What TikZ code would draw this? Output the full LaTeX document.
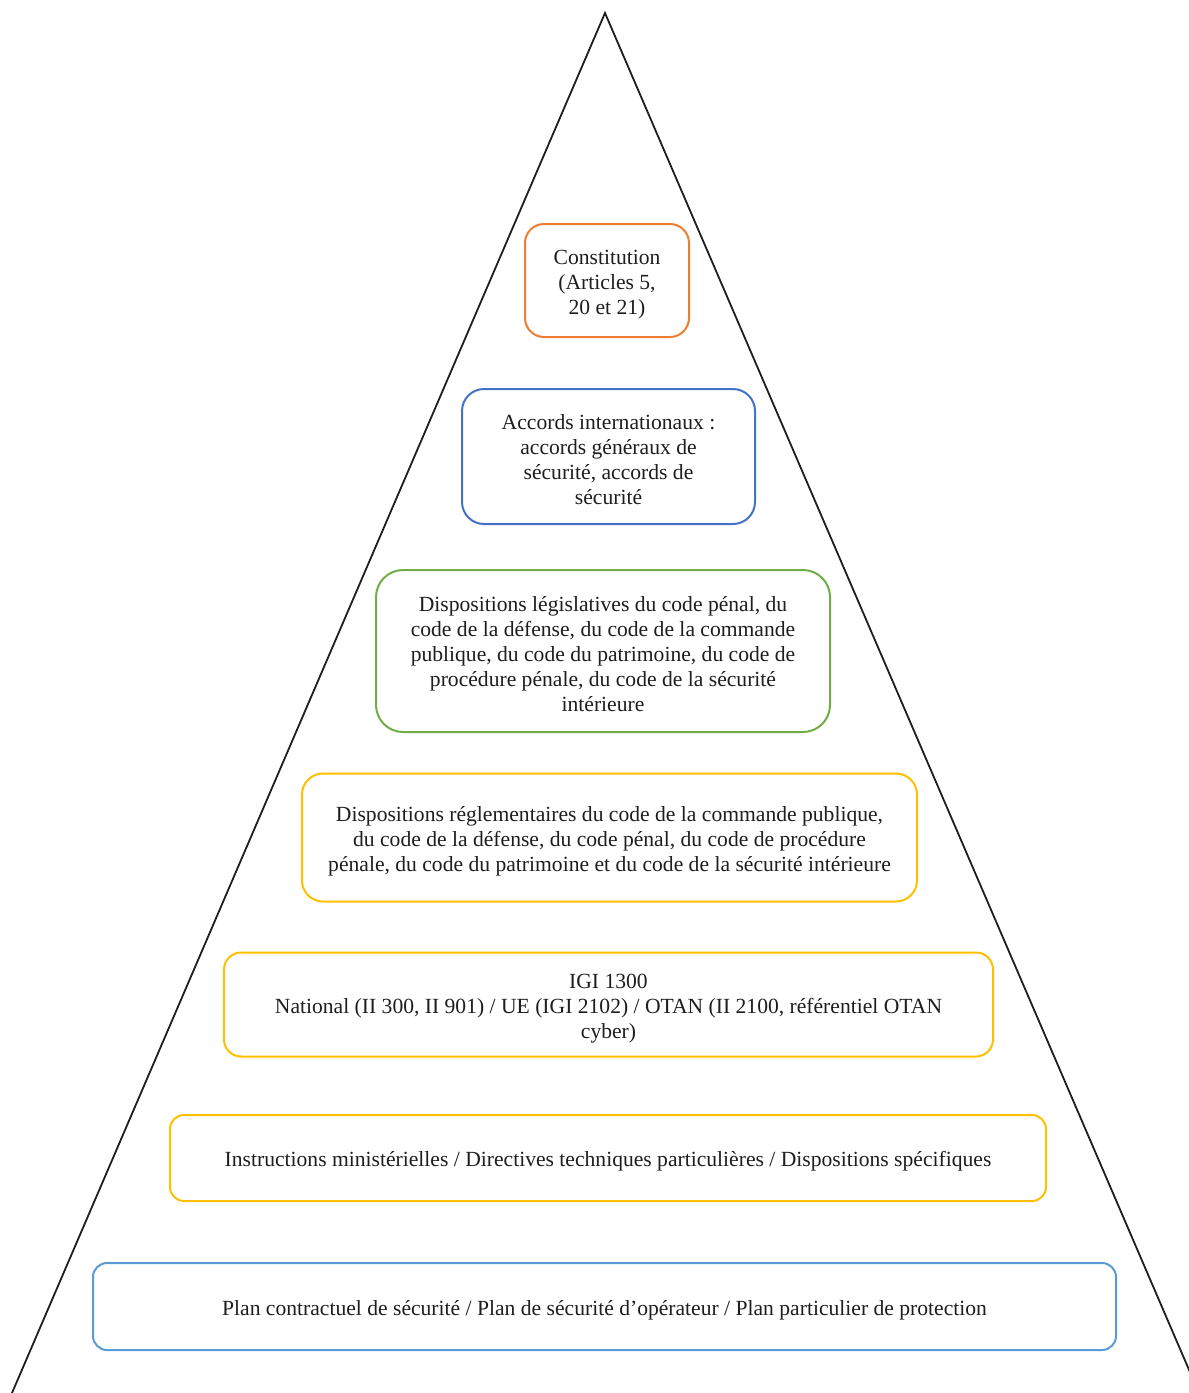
\documentclass[tikz,border=0pt]{standalone}
\usepackage{fontspec}
\setmainfont{Liberation Serif}
\usepackage{tikz}
\definecolor{tierOrange}{HTML}{ED7D31}
\definecolor{tierBlue}{HTML}{4472C4}
\definecolor{tierGreen}{HTML}{70AD47}
\definecolor{tierGold}{HTML}{FFC000}
\definecolor{tierSky}{HTML}{5B9BD5}
\definecolor{pyramidInk}{HTML}{1E1E1E}
\newcommand{\tierstrut}{\rule{0pt}{11pt}}
\tikzset{tier/.style={draw=#1, fill=white, line width=1pt, align=center, inner sep=0pt, text=pyramidInk, font=\fontsize{10.8}{12.5}\selectfont}}

\begin{document}
\begin{tikzpicture}[x=0.5pt, y=-0.5pt, line cap=round]

	\useasboundingbox (0,0) rectangle (1189,1393);

	\coordinate (apex) at (605,13);
	\coordinate (baseL) at (12,1393);
	\coordinate (baseR) at (1199,1393);

	\draw[line width=0.9pt, pyramidInk] (baseL) -- (apex) -- (baseR);

	\node[tier=tierOrange, minimum width=82pt, minimum height=56.5pt, rounded corners=9.5pt] (constitution) at (607,280.5) {\tierstrut Constitution\\(Articles 5,\\20 et 21)};
	\node[tier=tierBlue, minimum width=146.5pt, minimum height=67.5pt, rounded corners=11pt] (accords) at (608.5,456.5) {\tierstrut Accords internationaux :\\accords généraux de\\sécurité, accords de\\sécurité};
	\node[tier=tierGreen, minimum width=227pt, minimum height=81pt, rounded corners=13.5pt] (legislatif) at (603,651) {\tierstrut Dispositions législatives du code pénal, du\\code de la défense, du code de la commande\\publique, du code du patrimoine, du code de\\procédure pénale, du code de la sécurité\\intérieure};
	\node[tier=tierGold, minimum width=307.5pt, minimum height=64pt, rounded corners=10.5pt] (reglementaire) at (609.5,837.5) {\tierstrut Dispositions réglementaires du code de la commande publique,\\du code de la défense, du code pénal, du code de procédure\\pénale, du code du patrimoine et du code de la sécurité intérieure};
	\node[tier=tierGold, minimum width=384.5pt, minimum height=52pt, rounded corners=8.5pt] (igi) at (608.5,1004.5) {\tierstrut IGI 1300\\National (II 300, II 901) / UE (IGI 2102) / OTAN (II 2100, référentiel OTAN\\cyber)};
	\node[tier=tierGold, minimum width=438pt, minimum height=43pt, rounded corners=7pt] (instructions) at (608,1158) {\tierstrut Instructions ministérielles / Directives techniques particulières / Dispositions spécifiques};
	\node[tier=tierSky, minimum width=511.5pt, minimum height=43.5pt, rounded corners=7pt] (plans) at (604.5,1306.5) {\tierstrut Plan contractuel de sécurité / Plan de sécurité d’opérateur / Plan particulier de protection};

\end{tikzpicture}
\end{document}
